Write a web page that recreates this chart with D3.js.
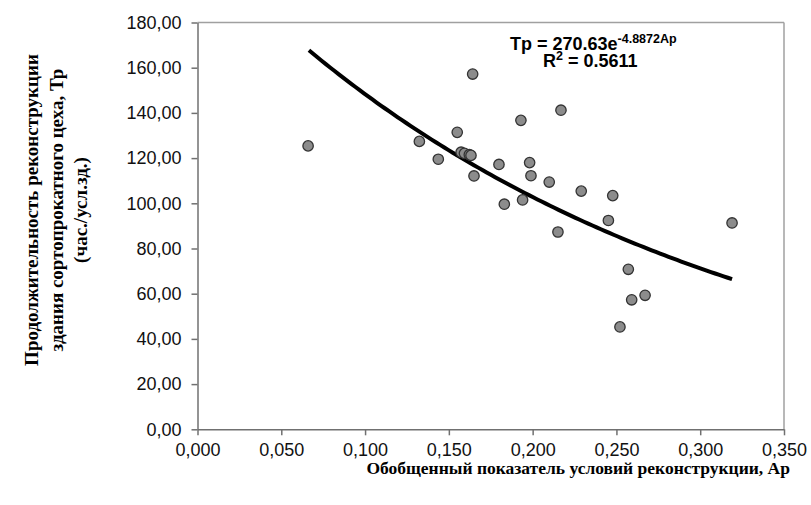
<!DOCTYPE html>
<html>
<head>
<meta charset="utf-8">
<script src="https://cdn.jsdelivr.net/npm/d3@7"></script>
<style>
  body { margin: 0; background: #fff; }
  text { font-family: "Liberation Sans", Arial, sans-serif; }
</style>
</head>
<body>
<div id="chart"></div>
<script>
var width = 811;
var height = 505;

// points: Ap and Tp
var apValues = [0.066, 0.1324, 0.1437, 0.155, 0.1573, 0.1593, 0.1622, 0.1632, 0.1642,
  0.165, 0.1799, 0.1831, 0.193, 0.194, 0.1982, 0.199, 0.2099, 0.2151, 0.2169,
  0.229, 0.2452, 0.2478, 0.2521, 0.2571, 0.2591, 0.2671, 0.319];
var tpValues = [125.4, 127.4, 119.5, 131.4, 122.6, 122.1, 121.5, 121.2, 157.2,
  112.1, 117.2, 99.6, 136.7, 101.5, 118.0, 112.2, 109.4, 87.3, 141.2,
  105.4, 92.4, 103.4, 45.3, 70.8, 57.3, 59.3, 91.3];

var xTicks = [0, 0.05, 0.1, 0.15, 0.2, 0.25, 0.3, 0.35];
var yTicks = [0, 20, 40, 60, 80, 100, 120, 140, 160, 180];

// trend line as drawn (a*exp(b*x)) and its x span
var trendCoef = [214, -3.667];
var trendSpan = [0.0665, 0.319];

var yTitleLines = ["Продолжительность реконструкции", "здания сортопрокатного цеха, Тр", "(час./усл.зд.)"];
var xTitle = "Обобщенный показатель условий реконструкции, Ар";

var loc = d3.formatLocale({decimal: ",", thousands: " ", grouping: [3], currency: ["", ""]});

var svg = d3.select('#chart').append('svg')
  .attr('width', width).attr('height', height);

var x = d3.scaleLinear().domain([0, 0.35]).range([197.5, 784]);
var y = d3.scaleLinear().domain([0, 180]).range([429.3, 22.5]);

// frame top / right
svg.append('line')
  .attr('x1', x(0)).attr('x2', x(0.35)).attr('y1', y(180)).attr('y2', y(180))
  .attr('stroke', '#a0a0a0').attr('stroke-width', 1.5);
svg.append('line')
  .attr('x1', x(0.35)).attr('x2', x(0.35)).attr('y1', y(180)).attr('y2', y(0))
  .attr('stroke', '#a0a0a0').attr('stroke-width', 1.5);

var xAxis = svg.append('g')
  .attr('transform', 'translate(0,' + y(0) + ')')
  .call(d3.axisBottom(x).tickValues(xTicks).tickSize(6).tickSizeOuter(0).tickFormat(loc.format('.3f')));

var yAxis = svg.append('g')
  .attr('transform', 'translate(' + x(0) + ',0)')
  .call(d3.axisLeft(y).tickValues(yTicks).tickSize(6).tickSizeOuter(0).tickFormat(loc.format('.2f')));

[xAxis, yAxis].forEach(function(g) {
  g.select('.domain').attr('stroke', '#707070').attr('stroke-width', 1.5);
  g.selectAll('.tick line').attr('stroke', '#707070').attr('stroke-width', 1.5);
  g.selectAll('.tick text')
    .attr('fill', '#111')
    .style('font-size', '18px')
    .style('font-family', '"Liberation Sans", Arial, sans-serif');
});
xAxis.selectAll('.tick text').attr('dy', '0.98em');
yAxis.selectAll('.tick text').attr('x', -16);

// trend curve
var curvePts = d3.range(0, 101).map(function(i) {
  var ap = trendSpan[0] + (trendSpan[1] - trendSpan[0]) * i / 100;
  return [ap, trendCoef[0] * Math.exp(trendCoef[1] * ap)];
});
svg.append('path')
  .datum(curvePts)
  .attr('d', d3.line().x(function(d){ return x(d[0]); }).y(function(d){ return y(d[1]); }))
  .attr('fill', 'none')
  .attr('stroke', '#000')
  .attr('stroke-width', 4);

// points
svg.selectAll('circle.pt')
  .data(apValues.map(function(v, i){ return [v, tpValues[i]]; }))
  .enter()
  .append('circle')
  .attr('class', 'pt')
  .attr('cx', function(d){ return x(d[0]); })
  .attr('cy', function(d){ return y(d[1]); })
  .attr('r', 5.2)
  .attr('fill', '#8c8c8c')
  .attr('stroke', '#333')
  .attr('stroke-width', 1.3);

// equation
var eq = svg.append('text')
  .attr('x', 510).attr('y', 49.5)
  .style('font-size', '18px').style('font-weight', 'bold');
eq.append('tspan').text('Tp = 270.63e');
eq.append('tspan').attr('dy', -7).style('font-size', '12.5px').text('-4.8872Ap');

var r2 = svg.append('text')
  .attr('x', 543).attr('y', 67)
  .style('font-size', '18px').style('font-weight', 'bold');
r2.append('tspan').text('R');
r2.append('tspan').attr('dy', -7).style('font-size', '12.5px').text('2');
r2.append('tspan').attr('dy', 7).text(' = 0.5611');

// y title
svg.append('g')
  .attr('transform', 'translate(38,210) rotate(-90)')
  .selectAll('text')
  .data(yTitleLines)
  .enter()
  .append('text')
  .attr('x', 0)
  .attr('y', function(d, i){ return i * 24.5; })
  .attr('text-anchor', 'middle')
  .style('font-family', '"Liberation Serif", "Times New Roman", serif')
  .style('font-weight', 'bold')
  .style('font-size', '19px')
  .text(function(d){ return d; });

// x title
svg.append('text')
  .attr('x', 790).attr('y', 474)
  .attr('text-anchor', 'end')
  .style('font-family', '"Liberation Serif", "Times New Roman", serif')
  .style('font-weight', 'bold')
  .style('font-size', '17.5px')
  .text(xTitle);
</script>
</body>
</html>
